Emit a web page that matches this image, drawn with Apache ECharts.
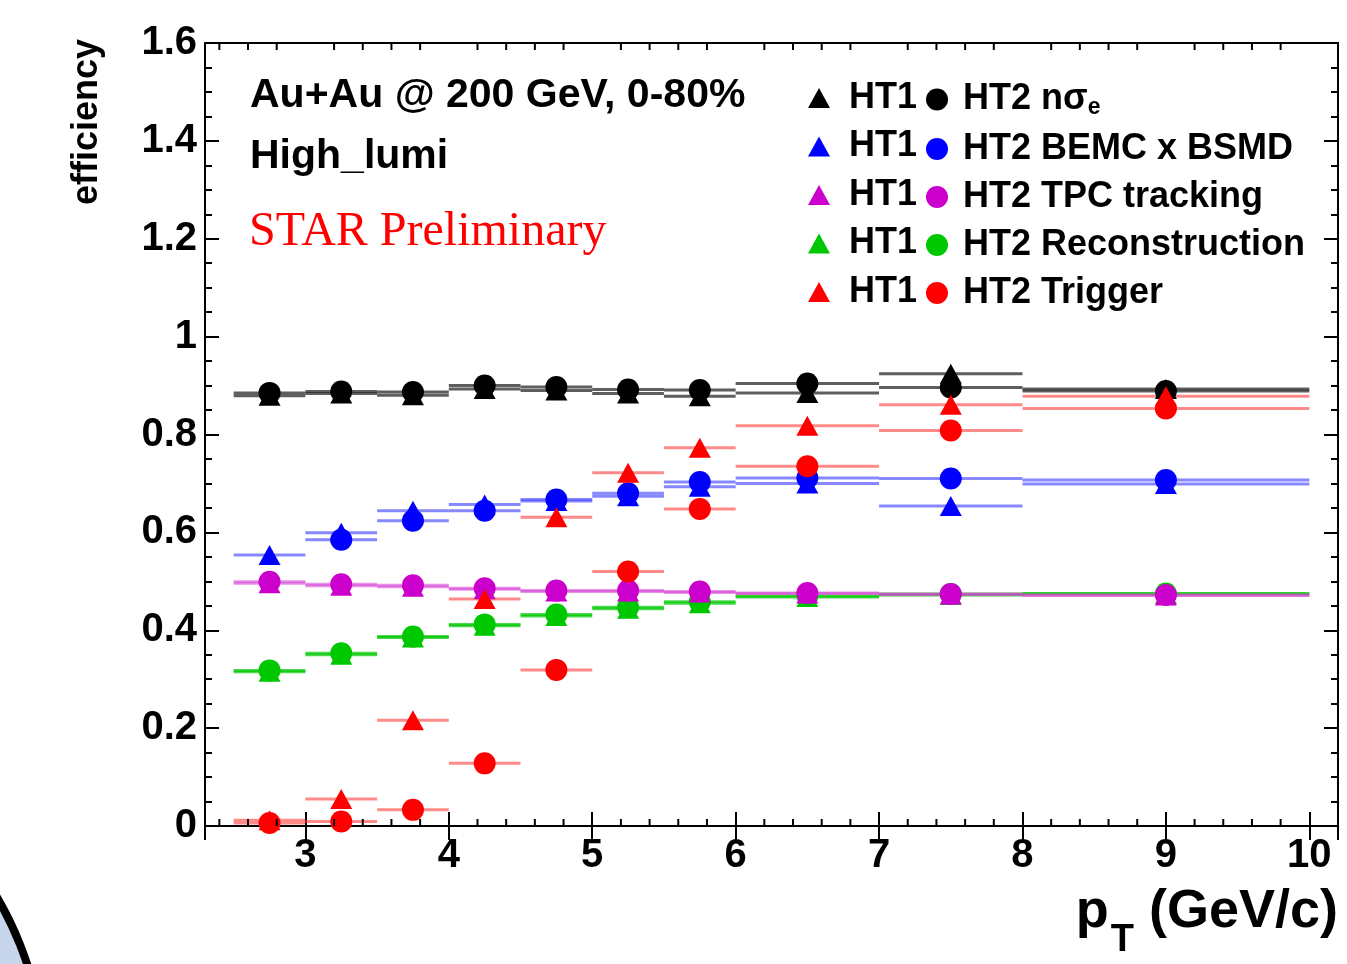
<!DOCTYPE html>
<html>
<head>
<meta charset="utf-8">
<script src="https://cdn.jsdelivr.net/npm/echarts@6/dist/echarts.min.js"></script>
<style>
  html, body { margin: 0; padding: 0; background: #ffffff; }
  #chart { width: 1347px; height: 964px; }
</style>
</head>
<body>
<div id="chart"></div>
<script>
// pT bins (GeV/c)
const binLow    = [2.5, 3.0, 3.5, 4.0, 4.5, 5.0, 5.5, 6.0, 7.0, 8.0];
const binHigh   = [3.0, 3.5, 4.0, 4.5, 5.0, 5.5, 6.0, 7.0, 8.0, 10.0];
const binCenter = [2.75, 3.25, 3.75, 4.25, 4.75, 5.25, 5.75, 6.5, 7.5, 9.0];

// efficiencies per step, HT1 (triangles) and HT2 (circles)
const ht1NSigmaE  = [0.879, 0.884, 0.880, 0.893, 0.890, 0.884, 0.878, 0.885, 0.924, 0.893];
const ht2NSigmaE  = [0.885, 0.888, 0.887, 0.900, 0.897, 0.892, 0.891, 0.904, 0.896, 0.889];
const ht1BemcBsmd = [0.554, 0.599, 0.644, 0.657, 0.664, 0.674, 0.693, 0.700, 0.654, 0.699];
const ht2BemcBsmd = [null,  0.585, 0.624, 0.644, 0.667, 0.680, 0.703, 0.711, 0.710, 0.707];
const ht1Tpc      = [0.496, 0.491, 0.489, 0.484, 0.479, 0.479, 0.477, 0.475, 0.473, 0.471];
const ht2Tpc      = [0.499, 0.494, 0.492, 0.486, 0.481, 0.481, 0.479, 0.476, 0.474, 0.472];
const ht1Reco     = [0.315, 0.350, 0.385, 0.409, 0.429, 0.444, 0.455, 0.468, 0.472, 0.474];
const ht2Reco     = [0.318, 0.353, 0.387, 0.412, 0.432, 0.447, 0.458, 0.470, 0.474, 0.475];
const ht1Trigger  = [0.012, 0.055, 0.216, 0.464, 0.631, 0.722, 0.773, 0.818, 0.861, 0.878];
const ht2Trigger  = [0.006, 0.009, 0.033, 0.128, 0.319, 0.520, 0.648, 0.735, 0.808, 0.853];

// axis tick labels
const yTickLabels = ['0', '0.2', '0.4', '0.6', '0.8', '1', '1.2', '1.4', '1.6'];
const xTickLabels = ['3', '4', '5', '6', '7', '8', '9', '10'];

const FONT = '"Liberation Sans", Arial, Helvetica, sans-serif';

// one entry per efficiency step; listed in drawing order
const steps = [
  { id: 'nse',  legend: 'HT2 nσ{s|e}',        color: '#000000', bar: 'rgba(40,40,40,0.75)',  ht1: ht1NSigmaE,  ht2: ht2NSigmaE },
  { id: 'bemc', legend: 'HT2 BEMC x BSMD',    color: '#0000ff', bar: 'rgba(70,70,255,0.65)', ht1: ht1BemcBsmd, ht2: ht2BemcBsmd },
  { id: 'reco', legend: 'HT2 Reconstruction', color: '#00c800', bar: 'rgba(0,200,0,0.7)',    ht1: ht1Reco,     ht2: ht2Reco },
  { id: 'tpc',  legend: 'HT2 TPC tracking',   color: '#cc00cc', bar: 'rgba(215,70,215,0.6)', ht1: ht1Tpc,      ht2: ht2Tpc },
  { id: 'trig', legend: 'HT2 Trigger',        color: '#ff0000', bar: 'rgba(255,60,60,0.6)',  ht1: ht1Trigger,  ht2: ht2Trigger }
];
const legendOrder = ['nse', 'bemc', 'tpc', 'reco', 'trig'];

const legendText = {};
steps.forEach(s => { legendText['HT2 ' + s.id] = '{g|}' + s.legend; });

// horizontal bin-width bars
function binBars(name, values, color) {
  const rows = [];
  values.forEach((v, i) => { if (v != null) rows.push([binLow[i], binHigh[i], v]); });
  return {
    type: 'custom',
    name: name,
    silent: true,
    z: 2,
    data: rows,
    encode: { x: [0, 1], y: 2 },
    renderItem: function (params, api) {
      const a = api.coord([api.value(0), api.value(2)]);
      const b = api.coord([api.value(1), api.value(2)]);
      return {
        type: 'line',
        shape: { x1: a[0], y1: a[1], x2: b[0], y2: b[1] },
        style: { stroke: color, lineWidth: 3 }
      };
    }
  };
}

function markers(name, values, symbol, size, color, z) {
  const rows = [];
  values.forEach((v, i) => { if (v != null) rows.push([binCenter[i], v]); });
  return {
    type: 'scatter',
    name: name,
    symbol: symbol,
    symbolSize: size,
    z: z,
    itemStyle: { color: color, opacity: 1 },
    emphasis: { disabled: true },
    data: rows
  };
}

const series = [];
steps.forEach(s => {
  series.push(binBars('HT1 ' + s.id + ' bins', s.ht1, s.bar));
  series.push(binBars('HT2 ' + s.id + ' bins', s.ht2, s.bar));
});
steps.forEach(s => {
  series.push(markers('HT1 ' + s.id, s.ht1, 'triangle', [22, 20], s.color, 5));
  series.push(markers('HT2 ' + s.id, s.ht2, 'circle', 22, s.color, 5));
});

// x minor ticks every 0.2, on the bottom and top frame edges
const xMinor = [];
for (let k = 12; k <= 50; k++) {
  const v = Math.round(k * 2) / 10;
  if (v > 2.3 && v < 10.2 && Math.abs(v - Math.round(v)) > 1e-6) xMinor.push([v, 0]);
}
series.push({
  type: 'custom',
  name: 'xminor',
  silent: true,
  z: 10,
  data: xMinor,
  renderItem: function (params, api) {
    const v = api.value(0);
    const b = api.coord([v, 0]);
    const t = api.coord([v, 1.6]);
    return {
      type: 'group',
      children: [
        { type: 'line', shape: { x1: b[0], y1: b[1], x2: b[0], y2: b[1] - 7 }, style: { stroke: '#000', lineWidth: 2 } },
        { type: 'line', shape: { x1: t[0], y1: t[1], x2: t[0], y2: t[1] + 7 }, style: { stroke: '#000', lineWidth: 2 } }
      ]
    };
  }
});

const isInt = v => Math.abs(v - Math.round(v)) < 1e-6;

const legendTextStyle = {
  color: '#000', fontFamily: FONT, fontWeight: 'bold', fontSize: 36, lineHeight: 34
};

const chart = echarts.init(document.getElementById('chart'), null, { renderer: 'canvas' });
chart.setOption({
  animation: false,
  backgroundColor: '#ffffff',
  grid: {
    left: 205, right: 9, top: 43, bottom: 138,
    show: true, borderColor: '#000', borderWidth: 2,
    outerBoundsMode: 'none'
  },
  xAxis: [
    {
      type: 'value', position: 'bottom', min: 2.3, max: 10.2, splitNumber: 8,
      axisLine: { show: true, lineStyle: { color: '#000', width: 2 } },
      axisTick: { show: true, inside: true, length: 14, lineStyle: { color: '#000', width: 2 } },
      splitLine: { show: false },
      axisLabel: {
        margin: 10, color: '#000', fontFamily: FONT, fontWeight: 'bold', fontSize: 40,
        formatter: v => (isInt(v) && xTickLabels.indexOf(String(Math.round(v))) >= 0) ? String(Math.round(v)) : ''
      }
    },
    {
      type: 'value', position: 'top', min: 2.3, max: 10.2, splitNumber: 8,
      axisLine: { show: true, lineStyle: { color: '#000', width: 2 } },
      axisTick: { show: true, inside: true, length: 14, lineStyle: { color: '#000', width: 2 } },
      splitLine: { show: false },
      axisLabel: { show: false }
    }
  ],
  yAxis: [
    {
      type: 'value', position: 'left', min: 0, max: 1.6, interval: 0.2,
      axisLine: { show: true, lineStyle: { color: '#000', width: 2 } },
      axisTick: { show: true, inside: true, length: 14, lineStyle: { color: '#000', width: 2 } },
      minorTick: { show: true, splitNumber: 4, length: 7, lineStyle: { color: '#000', width: 2 } },
      splitLine: { show: false },
      axisLabel: {
        margin: 8, color: '#000', fontFamily: FONT, fontWeight: 'bold', fontSize: 40,
        formatter: v => yTickLabels[Math.round(v / 0.2)] || ''
      }
    },
    {
      type: 'value', position: 'right', min: 0, max: 1.6, interval: 0.2,
      axisLine: { show: true, lineStyle: { color: '#000', width: 2 } },
      axisTick: { show: true, inside: true, length: 14, lineStyle: { color: '#000', width: 2 } },
      minorTick: { show: true, splitNumber: 4, length: 7, lineStyle: { color: '#000', width: 2 } },
      splitLine: { show: false },
      axisLabel: { show: false }
    }
  ],
  legend: [
    {
      data: legendOrder.map(id => ({ name: 'HT1 ' + id, icon: 'triangle' })),
      orient: 'vertical', left: 803, top: 75,
      itemWidth: 22, itemHeight: 20, itemGap: 12.5,
      selectedMode: false,
      formatter: () => '{g|}HT1',
      textStyle: Object.assign({}, legendTextStyle, { rich: { g: { width: 14, lineHeight: 34 } } })
    },
    {
      data: legendOrder.map(id => ({ name: 'HT2 ' + id, icon: 'circle' })),
      orient: 'vertical', left: 921, top: 75,
      itemWidth: 22, itemHeight: 22, itemGap: 12,
      selectedMode: false,
      formatter: name => legendText[name],
      textStyle: Object.assign({}, legendTextStyle, {
        rich: {
          g: { width: 10, lineHeight: 34 },
          s: { fontFamily: FONT, fontWeight: 'bold', fontSize: 23, lineHeight: 34, padding: [16, 0, 0, 0] }
        }
      })
    }
  ],
  graphic: [
    {
      type: 'circle', z: -1, silent: true,
      shape: { cx: -296, cy: 1070, r: 340 },
      style: { fill: '#c6d5ec', stroke: '#000', lineWidth: 8 }
    },
    {
      type: 'text', silent: true, z: 20,
      style: { x: 250, y: 96, text: 'Au+Au @ 200 GeV, 0-80%', font: 'bold 41px ' + FONT, fill: '#000', verticalAlign: 'middle' }
    },
    {
      type: 'text', silent: true, z: 20,
      style: { x: 250, y: 157, text: 'High_lumi', font: 'bold 41px ' + FONT, fill: '#000', verticalAlign: 'middle' }
    },
    {
      type: 'text', silent: true, z: 20,
      style: { x: 249, y: 232, text: 'STAR Preliminary', font: '48px "Liberation Serif", "Times New Roman", serif', fill: '#ff0000', verticalAlign: 'middle' }
    },
    {
      type: 'text', silent: true, z: 20,
      x: 87, y: 39, rotation: Math.PI / 2,
      style: { x: 0, y: 0, text: 'efficiency', font: 'bold 36px ' + FONT, fill: '#000', align: 'right', verticalAlign: 'middle' }
    },
    {
      type: 'text', silent: true, z: 20,
      style: {
        x: 1338, y: 912, align: 'right', verticalAlign: 'middle',
        text: '{p|p}{t|T}{r| (GeV/c)}',
        rich: {
          p: { fontFamily: FONT, fontWeight: 'bold', fontSize: 54, fill: '#000', lineHeight: 60 },
          t: { fontFamily: FONT, fontWeight: 'bold', fontSize: 38, fill: '#000', lineHeight: 60, padding: [58, 0, 0, 2] },
          r: { fontFamily: FONT, fontWeight: 'bold', fontSize: 54, fill: '#000', lineHeight: 60 }
        }
      }
    }
  ],
  series: series
});
</script>
</body>
</html>
